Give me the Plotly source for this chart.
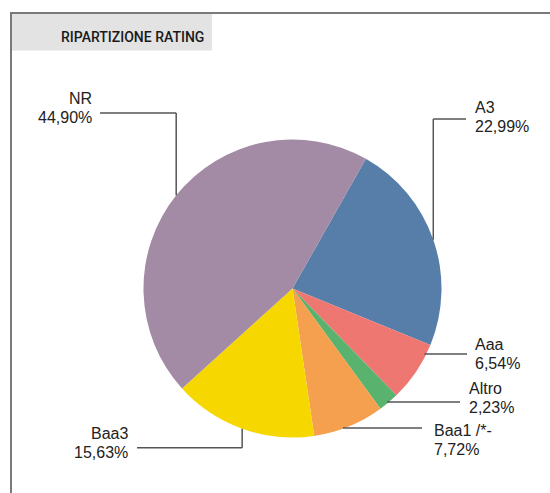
import math
import plotly.graph_objects as go

# ---- data ----
labels = ["A3", "Aaa", "Altro", "Baa1 /*-", "Baa3", "NR"]
values = [22.99, 6.54, 2.23, 7.72, 15.63, 44.90]
colors = ["#567EA8", "#EE7772", "#5AB26F", "#F4A04E", "#F6D700", "#A38AA5"]
title_text = "RIPARTIZIONE RATING"

# ---- layout constants (pixels) ----
W, H = 550, 493
CX, CY, R = 292.5, 288.5, 149.0
ROTATION = 29.5

def px(x):
    return x / W

def py(y):
    return 1 - y / H

# label layout: (kind, leader_y, line_end_x, text_x, text_anchor, name_y, value_y)
label_layout = {
    "A3":       ("elbow", 119.0, 466, 473, "left", 108, 127),
    "Aaa":      ("horiz", 354.0, 467, 473, "left", 344, 363),
    "Altro":    ("horiz", 402.0, 460, 467, "left", 388, 407),
    "Baa1 /*-": ("horiz", 428.0, 422, 432, "left", 430, 449),
    "Baa3":     ("elbow", 447.7, 137, 130, "right", 433, 452),
    "NR":       ("elbow", 113.0, 100, 94, "right", 98, 117),
}

fig = go.Figure(go.Pie(
    labels=labels, values=values, sort=False, direction="clockwise",
    rotation=ROTATION, marker=dict(colors=colors, line=dict(width=0)),
    textinfo="none", hoverinfo="none", showlegend=False,
    domain=dict(x=[px(CX - R), px(CX + R)], y=[py(CY + R), py(CY - R)]),
))

shapes = []
annotations = []
LINE = dict(color="#555555", width=1.5)

total = sum(values)
cum = 0.0
for lab, val in zip(labels, values):
    a0 = ROTATION + cum / total * 360
    cum += val
    a1 = ROTATION + cum / total * 360
    mid = math.radians((a0 + a1) / 2)
    ex = CX + R * math.sin(mid)
    ey = CY - R * math.cos(mid)
    kind, ly, lend, tx, anchor, ny, vy = label_layout[lab]
    if kind == "elbow":
        shapes.append(dict(type="line", xref="paper", yref="paper",
                           x0=px(ex), y0=py(ey), x1=px(ex), y1=py(ly), line=LINE))
        shapes.append(dict(type="line", xref="paper", yref="paper",
                           x0=px(ex), y0=py(ly), x1=px(lend), y1=py(ly), line=LINE))
    else:
        sx = CX + math.sqrt(max(R * R - (ly - CY) ** 2, 0))
        shapes.append(dict(type="line", xref="paper", yref="paper",
                           x0=px(sx - 2), y0=py(ly), x1=px(lend), y1=py(ly), line=LINE))
    val_txt = f"{val:.2f}".replace(".", ",") + "%"
    for txt, yy in ((lab, ny), (val_txt, vy)):
        annotations.append(dict(
            text=txt, xref="paper", yref="paper", x=px(tx), y=py(yy),
            xanchor=anchor, yanchor="middle", showarrow=False,
            font=dict(family="Liberation Sans, Arial, sans-serif", size=16, color="#222222"),
        ))

# frame and header
FRAME = dict(color="#7A7A7A", width=2)
shapes += [
    dict(type="rect", xref="paper", yref="paper", x0=px(12), x1=px(212), y0=py(50.5), y1=py(14),
         fillcolor="#E3E3E3", line=dict(width=0), layer="below"),
    dict(type="line", xref="paper", yref="paper", x0=px(10), x1=px(550), y0=py(13), y1=py(13), line=FRAME),
    dict(type="line", xref="paper", yref="paper", x0=px(11), x1=px(11), y0=py(12), y1=py(493), line=FRAME),
]
annotations.append(dict(
    text=title_text, xref="paper", yref="paper", x=px(206), y=py(37),
    xanchor="right", yanchor="middle", showarrow=False,
    font=dict(family="Roboto, Liberation Sans, sans-serif", size=14, weight=500, color="#1a1a1a"),
))

fig.update_layout(
    width=W, height=H, margin=dict(l=0, r=0, t=0, b=0),
    paper_bgcolor="white", plot_bgcolor="white",
    shapes=shapes, annotations=annotations,
)
fig.write_html("out.html", config={"displayModeBar": False},
               post_script="document.body.style.margin='0';")
